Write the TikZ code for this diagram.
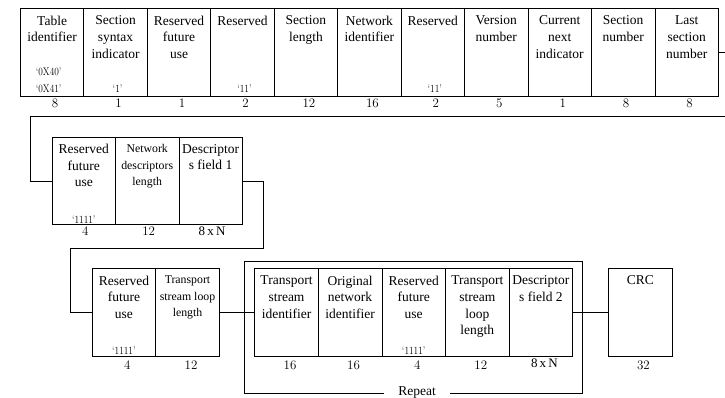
\documentclass[tikz,border=0pt]{standalone}
\usepackage{fontspec}
\newfontfamily\tnr{Liberation Serif}
\tikzset{
  field/.style={draw, line width=0.8pt, inner sep=0pt, anchor=north west,
    minimum height=87.5pt},
  lab/.style={anchor=north, inner sep=0pt, align=center,
    font=\fontsize{13.5}{16.7}\selectfont\tnr},
  smalllab/.style={lab, font=\fontsize{11.8}{16.7}\selectfont\tnr},
  val/.style={anchor=base, inner sep=0pt, font=\fontsize{11}{12}\selectfont},
  bits/.style={anchor=base, inner sep=0pt, font=\fontsize{13}{14}\selectfont},
  tbits/.style={anchor=base, inner sep=0pt, font=\fontsize{13}{14}\selectfont\tnr},
  wire/.style={line width=0.6pt},
}
\newcommand\qv[1]{\scalebox{0.85}[1]{`#1'}}
\begin{document}
\begin{tikzpicture}[x=1pt, y=-1pt]
\useasboundingbox (0,0) rectangle (725,398);

% ---- first part of the section header ----
\foreach \lab [count=\i] in {{Table\\identifier}, {Section\\syntax\\indicator},
    {Reserved\\future\\use}, {Reserved}, {Section\\length}, {Network\\identifier},
    {Reserved}, {Version\\number}, {Current\\next\\indicator}, {Section\\number},
    {Last\\section\\number}} {
  \node[field, minimum width=63.45pt] (t\i) at ({20+63.45*(\i-1)}, 8.3) {};
  \node[lab] (t\i l) at ([yshift=-7.3pt]t\i.north) {\lab};
}
\foreach \b [count=\i] in {8,1,1,2,12,16,2,5,1,8,8}
  \node[bits] (t\i b) at ([xshift=3pt, yshift=-11.3pt]t\i.south) {\b};

\node[val] (v1a) at ([xshift=-3.5pt, yshift=21pt]t1.south) {\qv{0X40}};
\node[val] (v1b) at ([xshift=-3.5pt, yshift=4pt]t1.south) {\qv{0X41}};
\node[val] (v2)  at ([xshift=2pt, yshift=4pt]t2.south) {\qv{1}};
\node[val] (v4)  at ([xshift=2pt, yshift=4pt]t4.south) {\qv{11}};
\node[val] (v7)  at ([xshift=2pt, yshift=4pt]t7.south) {\qv{11}};

% ---- network descriptors ----
\node[field, minimum width=63.4pt] (r2a) at (51.7, 136.7) {};
\node[field, minimum width=63.4pt] (r2b) at (115.1, 136.7) {};
\node[field, minimum width=63.4pt] (r2c) at (178.5, 136.7) {};
\node[lab] (r2al) at ([yshift=-7.3pt]r2a.north) {Reserved\\future\\use};
\node[smalllab] (r2bl) at ([yshift=-7.3pt]r2b.north) {Network\\descriptors\\length};
\node[lab] (r2cl) at ([yshift=-7.3pt]r2c.north) {Descriptor\\s field 1};
\node[val] (v2a) at ([yshift=1.5pt]r2a.south) {\qv{1111}};
\node[bits] (r2ab) at ([xshift=1.5pt, yshift=-10.5pt]r2a.south) {4};
\node[bits] (r2bb) at ([xshift=1.5pt, yshift=-10.5pt]r2b.south) {12};
\node[tbits] (r2cb) at ([xshift=1.5pt, yshift=-10.5pt]r2c.south) {8\,x\,N};

% ---- transport stream loop ----
\node[field, minimum width=63.6pt] (r3a) at (91.7, 268.3) {};
\node[field, minimum width=63.6pt] (r3b) at (155.3, 268.3) {};
\node[lab] (r3al) at ([yshift=-7.3pt]r3a.north) {Reserved\\future\\use};
\node[smalllab] (r3bl) at ([yshift=-7.3pt]r3b.north) {Transport\\stream loop\\length};
\node[val] (v3a) at ([yshift=2.5pt]r3a.south) {\qv{1111}};
\node[bits] (r3ab) at ([xshift=3.5pt, yshift=-12.5pt]r3a.south) {4};
\node[bits] (r3bb) at ([xshift=3.5pt, yshift=-12.5pt]r3b.south) {12};

% repeated part
\node[draw, line width=0.8pt, inner sep=0pt, anchor=north west,
  minimum width=338.3pt, minimum height=132.6pt] (rep) at (244, 260.7) {};
\foreach \lab [count=\i] in {{Transport\\stream\\identifier}, {Original\\network\\identifier},
    {Reserved\\future\\use}, {Transport\\stream\\loop\\length}, {Descriptor\\s field 2}} {
  \node[field, minimum width=63.6pt] (p\i) at ({254.3+63.6*(\i-1)}, 268.3) {};
  \node[lab] (p\i l) at ([yshift=-7.3pt]p\i.north) {\lab};
}
\node[val] (v3p) at ([yshift=2.5pt]p3.south) {\qv{1111}};
\foreach \b [count=\i] in {16,16,4,12}
  \node[bits] (p\i b) at ([xshift=3.5pt, yshift=-12.5pt]p\i.south) {\b};
\node[tbits] (p5b) at ([xshift=3.5pt, yshift=-11pt]p5.south) {8\,x\,N};
\node[anchor=base, fill=white, inner xsep=14pt, inner ysep=0pt,
  font=\fontsize{13.5}{16}\selectfont\tnr] (replab) at (417, 395) {Repeat};

% CRC
\node[field, minimum width=63.4pt] (crc) at (608.3, 268.3) {};
\node[lab] (crcl) at ([yshift=-7.3pt]crc.north) {CRC};
\node[bits] (crcb) at ([xshift=3pt, yshift=-12.5pt]crc.south) {32};

% ---- connectors (the return run on the right lies just past the page edge) ----
\coordinate (k1) at (725.6, 116.7);
\coordinate (k2) at (30, 116.7);
\coordinate (k3) at (263, 248.3);
\coordinate (k4) at (70, 248.3);
\draw[wire] (t11.east) -| (k1) -- (k2) |- (r2a.west);
\draw[wire] (r2c.east) -| (k3) -- (k4) |- (r3a.west);
\draw[wire] (r3b.east) -- (p1.west);
\draw[wire] (p5.east) -- (crc.west);
\end{tikzpicture}
\end{document}
